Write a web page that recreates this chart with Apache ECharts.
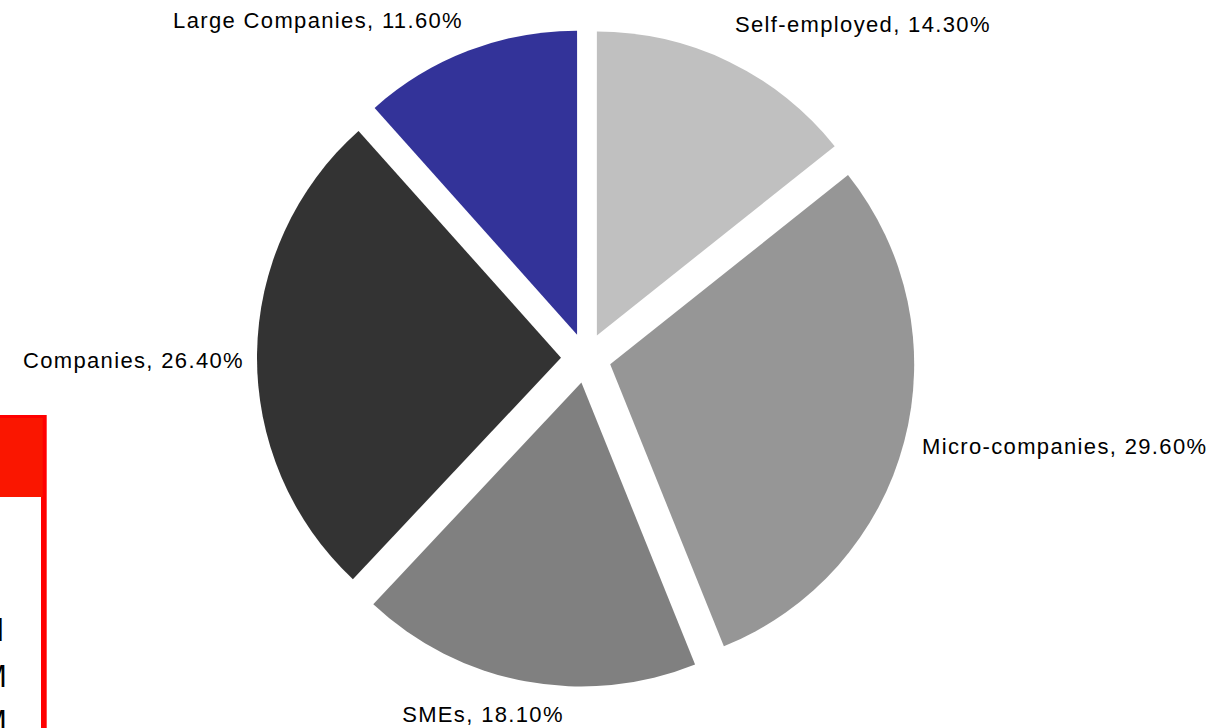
<!DOCTYPE html>
<html>
<head>
<meta charset="utf-8">
<script src="https://cdn.jsdelivr.net/npm/echarts@6/dist/echarts.min.js"></script>
<style>
  html, body { margin: 0; padding: 0; background: #ffffff; }
  #chart { width: 1224px; height: 728px; }
  #chart text { letter-spacing: 1.35px; }
</style>
</head>
<body>
<div id="chart"></div>
<script>
// Workforce share by employer type (clockwise from 12 o'clock)
const categories = ['Self-employed', 'Micro-companies', 'SMEs', 'Companies', 'Large Companies'];
const shares = [14.3, 29.6, 18.1, 26.4, 11.6];
const sliceColors = ['#c0c0c0', '#969696', '#808080', '#333333', '#333399'];

// Where each slice label sits: anchor point, horizontal alignment
const labelSpots = {
  'Self-employed':   { x: 735, y: 24.5, align: 'left' },
  'Micro-companies': { x: 922, y: 446.5, align: 'left' },
  'SMEs':            { x: 483, y: 714, align: 'center' },
  'Companies':       { x: 244, y: 360, align: 'right' },
  'Large Companies': { x: 463, y: 20.5, align: 'right' }
};

const labelFont = 'Arial, "Liberation Sans", sans-serif';
const formatLabel = (name, value) => name + ', ' + value.toFixed(2) + '%';

const chart = echarts.init(document.getElementById('chart'), null, { renderer: 'svg' });

const pieData = categories.map((name, i) => ({
  name: name,
  value: shares[i],
  selected: true,
  itemStyle: { color: sliceColors[i] }
}));

// slice labels, built from the same category / share arrays
const sliceLabels = categories.map((name, i) => {
  const spot = labelSpots[name];
  return {
    type: 'text', z: 20,
    style: {
      text: formatLabel(name, shares[i]),
      x: spot.x, y: spot.y,
      fill: '#000000',
      font: '22px ' + labelFont,
      textAlign: spot.align,
      textVerticalAlign: 'middle'
    }
  };
});

chart.setOption({
  animation: false,
  backgroundColor: '#ffffff',
  graphic: [
    // partially visible red framed panel at the left edge
    { type: 'rect', z: 10, shape: { x: -20, y: 415, width: 66.7, height: 340 }, style: { fill: '#ff0000' } },
    { type: 'rect', z: 11, shape: { x: -20, y: 497, width: 61, height: 260 }, style: { fill: '#ffffff' } },
    { type: 'rect', z: 11, shape: { x: -20, y: 418, width: 62.7, height: 79 }, style: { fill: '#fa1600' } },
    { type: 'text', z: 12, style: { text: 'l', x: 5, y: 630.5, fill: '#000000', font: '31px ' + labelFont, textAlign: 'right', textVerticalAlign: 'middle' } },
    { type: 'text', z: 12, style: { text: 'M', x: 8.2, y: 676.5, fill: '#000000', font: '31px ' + labelFont, textAlign: 'right', textVerticalAlign: 'middle' } },
    { type: 'text', z: 12, style: { text: 'M', x: 8.2, y: 721.5, fill: '#000000', font: '31px ' + labelFont, textAlign: 'right', textVerticalAlign: 'middle' } }
  ].concat(sliceLabels),
  series: [{
    type: 'pie',
    center: [586, 358],
    radius: 304,
    startAngle: 90,
    clockwise: true,
    selectedMode: 'multiple',
    selectedOffset: 25,
    emphasis: { disabled: true },
    label: { show: false },
    labelLine: { show: false },
    data: pieData
  }]
});
</script>
</body>
</html>
